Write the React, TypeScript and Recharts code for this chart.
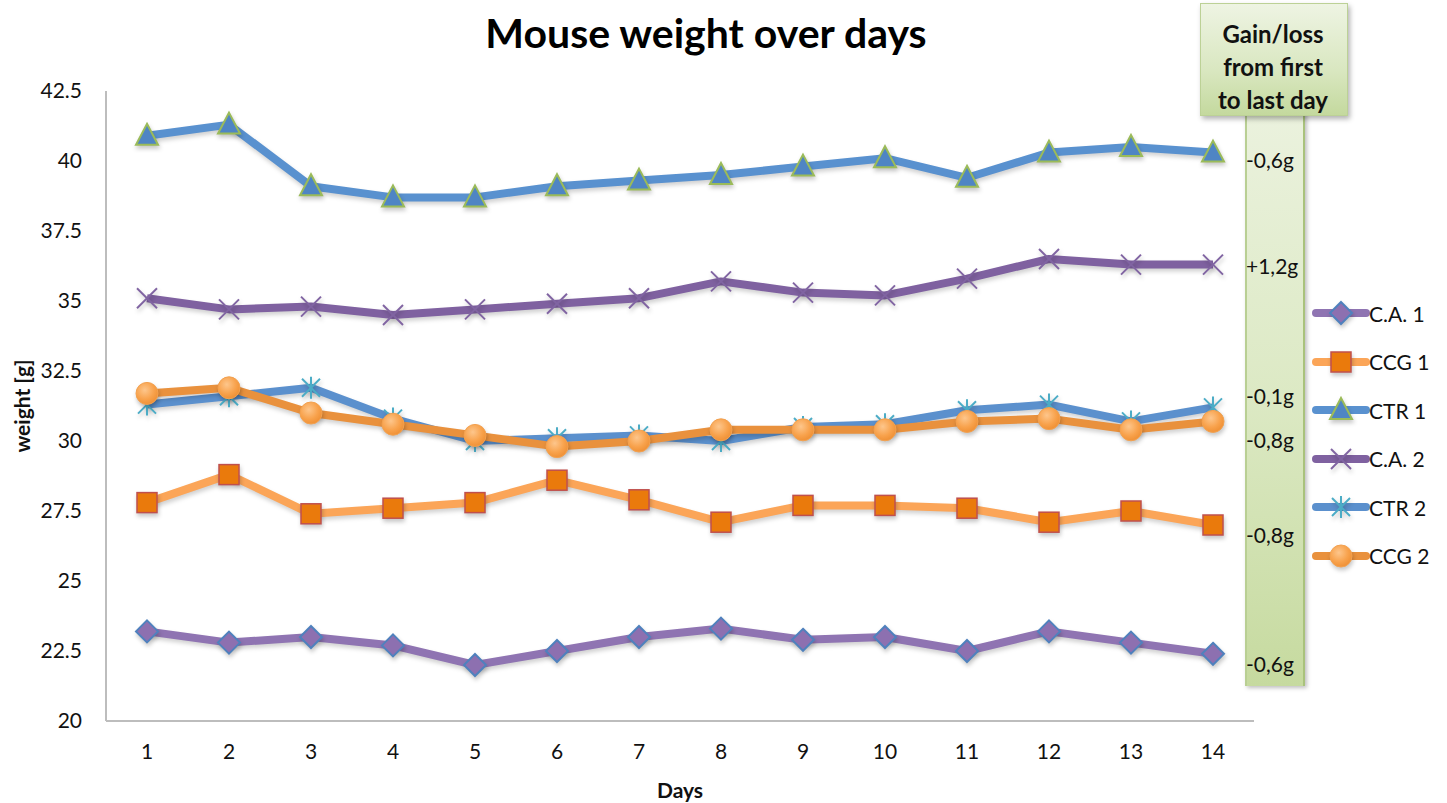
import React from "react";
import { CartesianGrid, Legend, Line, LineChart, XAxis, YAxis } from "recharts";

const days = [1, 2, 3, 4, 5, 6, 7, 8, 9, 10, 11, 12, 13, 14];

const ca1 = [23.2, 22.8, 23.0, 22.7, 22.0, 22.5, 23.0, 23.3, 22.9, 23.0, 22.5, 23.2, 22.8, 22.4];
const ccg1 = [27.8, 28.8, 27.4, 27.6, 27.8, 28.6, 27.9, 27.1, 27.7, 27.7, 27.6, 27.1, 27.5, 27.0];
const ctr1 = [40.9, 41.3, 39.1, 38.7, 38.7, 39.1, 39.3, 39.5, 39.8, 40.1, 39.4, 40.3, 40.5, 40.3];
const ca2 = [35.1, 34.7, 34.8, 34.5, 34.7, 34.9, 35.1, 35.7, 35.3, 35.2, 35.8, 36.5, 36.3, 36.3];
const ctr2 = [31.3, 31.6, 31.9, 30.8, 30.0, 30.1, 30.2, 30.0, 30.5, 30.6, 31.1, 31.3, 30.7, 31.2];
const ccg2 = [31.7, 31.9, 31.0, 30.6, 30.2, 29.8, 30.0, 30.4, 30.4, 30.4, 30.7, 30.8, 30.4, 30.7];

const yTicks = [20, 22.5, 25, 27.5, 30, 32.5, 35, 37.5, 40, 42.5];

const gainLabels = ["-0,6g", "+1,2g", "-0,1g", "-0,8g", "-0,8g", "-0,6g"];

type MarkerKind = "diamond" | "square" | "triangle" | "cross" | "star" | "circle";

const series: { key: string; name: string; color: string; marker: MarkerKind }[] = [
  { key: "ca1", name: "C.A. 1", color: "#8f74b2", marker: "diamond" },
  { key: "ccg1", name: "CCG 1", color: "#fba558", marker: "square" },
  { key: "ctr1", name: "CTR 1", color: "#5991cf", marker: "triangle" },
  { key: "ca2", name: "C.A. 2", color: "#7f61a0", marker: "cross" },
  { key: "ctr2", name: "CTR 2", color: "#5b90cd", marker: "star" },
  { key: "ccg2", name: "CCG 2", color: "#e9913d", marker: "circle" },
];

const data = days.map((day, i) => ({
  day,
  ca1: ca1[i],
  ccg1: ccg1[i],
  ctr1: ctr1[i],
  ca2: ca2[i],
  ctr2: ctr2[i],
  ccg2: ccg2[i],
}));

const FONT = "Lato, 'Open Sans', sans-serif";

function Marker({ kind, cx, cy }: { kind: MarkerKind; cx: number; cy: number }) {
  const shadow = { filter: "drop-shadow(1px 3px 2px rgba(0,0,0,0.22))" };
  switch (kind) {
    case "diamond":
      return (
        <polygon
          style={shadow}
          points={`${cx},${cy - 11} ${cx + 11},${cy} ${cx},${cy + 11} ${cx - 11},${cy}`}
          fill="#8d70b0"
          stroke="#4f81bd"
          strokeWidth={2}
        />
      );
    case "square":
      return (
        <rect
          style={shadow}
          x={cx - 10}
          y={cy - 10}
          width={20}
          height={20}
          fill="#ea7a0c"
          stroke="#c0504d"
          strokeWidth={1.5}
        />
      );
    case "triangle":
      return (
        <polygon
          style={shadow}
          points={`${cx},${cy - 12} ${cx + 11},${cy + 9} ${cx - 11},${cy + 9}`}
          fill="#4f85c4"
          stroke="#9bbb59"
          strokeWidth={2}
        />
      );
    case "cross":
      return (
        <g stroke="#8064a2" strokeWidth={2} style={shadow}>
          <line x1={cx - 10} y1={cy - 10} x2={cx + 10} y2={cy + 10} />
          <line x1={cx - 10} y1={cy + 10} x2={cx + 10} y2={cy - 10} />
        </g>
      );
    case "star":
      return (
        <g stroke="#4bacc6" strokeWidth={2} style={shadow}>
          <line x1={cx - 9} y1={cy - 9} x2={cx + 9} y2={cy + 9} />
          <line x1={cx - 9} y1={cy + 9} x2={cx + 9} y2={cy - 9} />
          <line x1={cx} y1={cy - 11} x2={cx} y2={cy + 11} />
        </g>
      );
    case "circle":
    default:
      return (
        <circle
          style={shadow}
          cx={cx}
          cy={cy}
          r={11}
          fill="url(#ccgBall)"
          stroke="#f2a150"
          strokeWidth={1}
        />
      );
  }
}

function LegendBox() {
  return (
    <div style={{ fontFamily: FONT, fontSize: 21, color: "#111" }}>
      {series.map((s) => (
        <div key={s.key} style={{ display: "flex", alignItems: "center", height: 48.5 }}>
          <svg width={58} height={26} style={{ overflow: "visible" }}>
            <line x1={6} y1={13} x2={56} y2={13} stroke={s.color} strokeWidth={8} strokeLinecap="round" />
            <Marker kind={s.marker} cx={31} cy={13} />
          </svg>
          <span style={{ marginLeft: 1 }}>{s.name}</span>
        </div>
      ))}
    </div>
  );
}

export default function App() {
  const gainTops = [160, 266, 396, 440, 535, 664];
  const headerLines = ["Gain/loss", "from first", "to last day"];

  return (
    <div
      style={{
        position: "absolute",
        left: 0,
        top: 0,
        width: 1447,
        height: 803,
        background: "#fff",
        fontFamily: FONT,
        overflow: "hidden",
      }}
    >
      <style>{`.soft-line path { filter: drop-shadow(1px 3px 2px rgba(0,0,0,0.18)); }`}</style>
      <svg width={0} height={0} style={{ position: "absolute" }}>
        <defs>
          <radialGradient id="ccgBall" cx="40%" cy="35%" r="70%">
            <stop offset="0%" stopColor="#fdc68c" />
            <stop offset="60%" stopColor="#f8a24c" />
            <stop offset="100%" stopColor="#ee8e32" />
          </radialGradient>
        </defs>
      </svg>

      {/* gain/loss column behind the chart */}
      <div
        style={{
          position: "absolute",
          left: 1245,
          top: 108,
          width: 56,
          height: 578,
          background: "linear-gradient(180deg, #ebf2de 0%, #dce9c4 50%, #c6da9f 100%)",
          borderLeft: "2px solid #b9cf93",
          borderRight: "2px solid #a9c27c",
          boxShadow: "2px 2px 4px rgba(0,0,0,0.25)",
        }}
      />
      <div
        style={{
          position: "absolute",
          left: 1200,
          top: 3,
          width: 146,
          height: 111,
          background: "linear-gradient(180deg, #eef4e3 0%, #d9e7c0 60%, #c4d99e 100%)",
          border: "1px solid #bcd196",
          boxShadow: "2px 3px 5px rgba(0,0,0,0.3)",
        }}
      />
      {headerLines.map((t, i) => (
        <div
          key={t}
          style={{
            position: "absolute",
            left: 1200,
            width: 146,
            top: 19 + i * 33,
            textAlign: "center",
            fontWeight: 700,
            fontSize: 24,
            lineHeight: "30px",
            color: "#111",
          }}
        >
          {t}
        </div>
      ))}
      {gainLabels.map((t, i) => (
        <div
          key={i}
          style={{
            position: "absolute",
            left: 1246,
            top: gainTops[i] - 13,
            fontSize: 21,
            lineHeight: "26px",
            color: "#111",
          }}
        >
          {t}
        </div>
      ))}

      <div style={{ position: "absolute", left: 0, top: 0 }}>
        <LineChart
          width={1447}
          height={803}
          data={data}
          margin={{ top: 91, right: 193, bottom: 0, left: 6 }}
        >
          <CartesianGrid horizontal={false} vertical={false} />
          <XAxis
            dataKey="day"
            height={82}
            padding={{ left: 41, right: 41 }}
            tickLine={false}
            tickSize={0}
            tickMargin={23}
            axisLine={{ stroke: "#bdbdbd", strokeWidth: 2 }}
            tick={{ fill: "#111", fontSize: 21, fontFamily: FONT }}
          />
          <YAxis
            width={100}
            domain={[20, 42.5]}
            ticks={yTicks}
            interval={0}
            tickLine={false}
            tickSize={0}
            tickMargin={24}
            axisLine={{ stroke: "#bdbdbd", strokeWidth: 2 }}
            tick={{ fill: "#111", fontSize: 21, fontFamily: FONT }}
          />
          <Legend
            layout="vertical"
            align="center"
            verticalAlign="middle"
            wrapperStyle={{ left: 1310, top: 289, width: 137 }}
            content={() => <LegendBox />}
          />
          {series.map((s) => (
            <Line
              key={s.key}
              className="soft-line"
              type="linear"
              dataKey={s.key}
              name={s.name}
              stroke={s.color}
              strokeWidth={8}
              strokeLinejoin="round"
              isAnimationActive={false}
              activeDot={false}
              dot={(p: any) => (
                <Marker key={`${s.key}-${p.index}`} kind={s.marker} cx={p.cx} cy={p.cy} />
              )}
            />
          ))}
        </LineChart>
      </div>

      <div
        style={{
          position: "absolute",
          left: 306,
          width: 800,
          top: 8,
          textAlign: "center",
          fontSize: 41,
          fontWeight: 700,
          color: "#000",
          lineHeight: "50px",
        }}
      >
        Mouse weight over days
      </div>
      <div
        style={{
          position: "absolute",
          left: 580,
          width: 200,
          top: 777,
          textAlign: "center",
          fontSize: 21,
          fontWeight: 700,
          color: "#111",
          lineHeight: "26px",
        }}
      >
        Days
      </div>
      <div
        style={{
          position: "absolute",
          left: 22 - 70,
          top: 406 - 13,
          width: 140,
          textAlign: "center",
          fontSize: 21,
          fontWeight: 700,
          color: "#111",
          lineHeight: "26px",
          transform: "rotate(-90deg)",
        }}
      >
        weight [g]
      </div>
    </div>
  );
}
